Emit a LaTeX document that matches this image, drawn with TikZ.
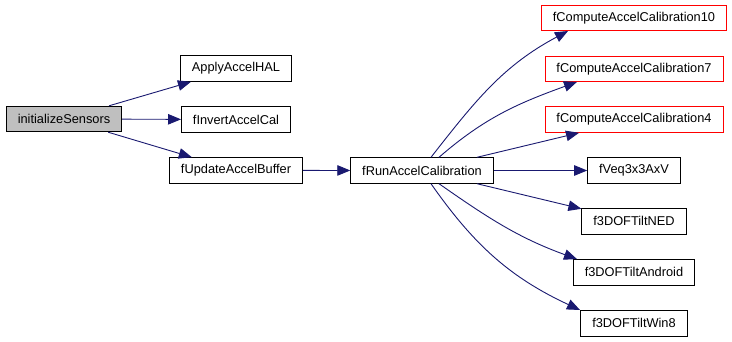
\documentclass[tikz,border=0pt]{standalone}
\usepackage{fontspec}
\setmainfont{Liberation Sans}
\usetikzlibrary{positioning,arrows.meta}
\usepackage{xcolor}
\definecolor{edgeblue}{HTML}{191970}
\definecolor{callerfill}{HTML}{BFBFBF}
\definecolor{hidered}{HTML}{FF0000}

\begin{document}
\begin{tikzpicture}[
  x=1pt, y=1pt,
  node distance=24.5pt,
  box/.style={draw=black, line width=0.9pt, fill=white,
              inner xsep=11.5pt, inner ysep=0pt, minimum height=25.5pt,
              font=\fontsize{12.8pt}{14pt}\selectfont},
  redbox/.style={box, draw=hidered},
  arrow/.style={-{Triangle[length=13pt,width=10.5pt]}, line width=0.9pt, color=edgeblue}
]
  \useasboundingbox (0,0) rectangle (732,-341);

  \node[box, fill=callerfill] (init) at (64,-119) {initializeSensors};
  \node[box] (invert) at (236,-119.5) {fInvertAccelCal};
  \node[box, above=of invert] (apply)  {ApplyAccelHAL};
  \node[box, below=of invert] (update) {fUpdateAccelBuffer};

  \node[box] (run) at (422,-170.5) {fRunAccelCalibration};

  \node[box] (veq) at (634,-170.5) {fVeq3x3AxV};
  \node[redbox, above=of veq] (cal4)  {fComputeAccelCalibration4};
  \node[redbox, above=of cal4] (cal7)  {fComputeAccelCalibration7};
  \node[redbox, above=of cal7] (cal10) {fComputeAccelCalibration10};
  \node[box, below=of veq]     (ned)     {f3DOFTiltNED};
  \node[box, below=of ned]     (android) {f3DOFTiltAndroid};
  \node[box, below=of android] (win8)    {f3DOFTiltWin8};

  \draw[arrow] (init)   -- (apply);
  \draw[arrow] (init)   -- (invert);
  \draw[arrow] (init)   -- (update);
  \draw[arrow] (update) -- (run);

  \draw[arrow] ([xshift=9pt]run.north)  to[out=52, in=208] ([xshift=-66pt]cal10.south);
  \draw[arrow] ([xshift=17pt]run.north) to[out=41, in=200] ([xshift=-57pt]cal7.south);
  \draw[arrow] (run) -- (cal4);
  \draw[arrow] (run) -- (veq);
  \draw[arrow] (run) -- (ned);
  \draw[arrow] ([xshift=17pt]run.south) to[out=-35, in=160] ([xshift=-57pt]android.north);
  \draw[arrow] ([xshift=9pt]run.south)  to[out=-55, in=155] ([xshift=-54pt]win8.north);
\end{tikzpicture}
\end{document}
